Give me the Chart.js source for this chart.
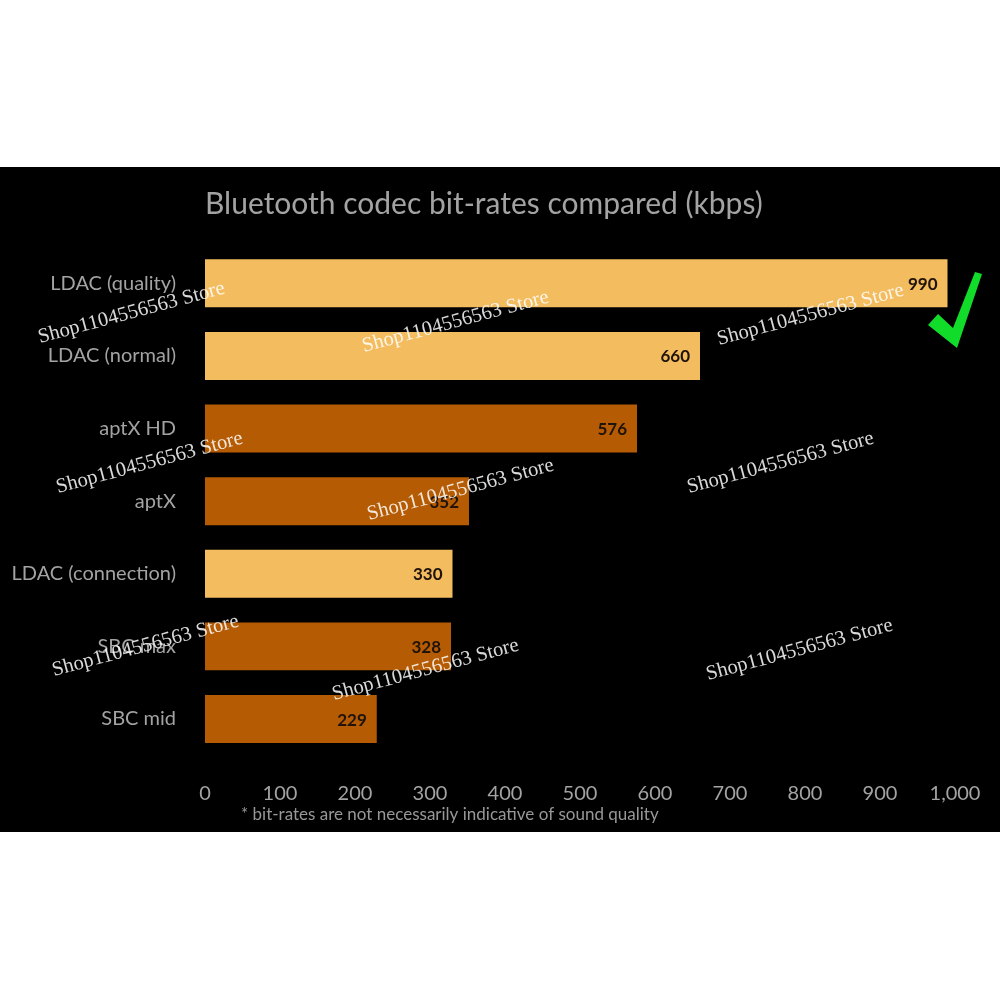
<!DOCTYPE html>
<html>
<head>
<meta charset="utf-8">
<title>Bluetooth codec bit-rates</title>
<script src="https://cdn.jsdelivr.net/npm/chart.js@4"></script>
<style>
  html, body { margin: 0; padding: 0; background: #fff; }
  canvas { display: block; }
</style>
</head>
<body>
<canvas id="codecChart" width="1000" height="1000"></canvas>
<script>
const codecs = ['LDAC (quality)', 'LDAC (normal)', 'aptX HD', 'aptX', 'LDAC (connection)', 'SBC max', 'SBC mid'];
const bitRates = [990, 660, 576, 352, 330, 328, 229];
const barColors = ['#f3bc5f', '#f3bc5f', '#b45b04', '#b45b04', '#f3bc5f', '#b45b04', '#b45b04'];
const chartTitle = 'Bluetooth codec bit-rates compared (kbps)';
const footnote = '* bit-rates are not necessarily indicative of sound quality';
const watermark = 'Shop1104556563 Store';
// left end of each watermark on the page
const stampX = [40, 364, 719, 58, 369, 689, 54, 334, 708];
const stampY = [343, 352, 345, 493, 520, 493, 676, 700, 680];

const gray = '#a3a3a3';
const font = 'Lato, "Open Sans", sans-serif';

const slidePlugin = {
    id: 'slide',
    beforeDraw(chart) {
        const ctx = chart.ctx;
        ctx.save();
        ctx.fillStyle = '#fff';
        ctx.fillRect(0, 0, 1000, 1000);
        ctx.fillStyle = '#000';
        ctx.fillRect(0, 167, 1000, 665);
        ctx.restore();
    },
    afterDraw(chart) {
        const ctx = chart.ctx;
        ctx.save();

        // values inside the bars
        ctx.font = 'bold 17px ' + font;
        ctx.fillStyle = '#20130a';
        ctx.textAlign = 'right';
        ctx.textBaseline = 'middle';
        chart.getDatasetMeta(0).data.forEach((bar, i) => {
            ctx.fillText(bitRates[i], bar.x - 10, bar.y + 1);
        });

        // footnote
        ctx.font = '17px ' + font;
        ctx.fillStyle = '#989898';
        ctx.textAlign = 'left';
        ctx.fillText(footnote, 241, 815);

        // green tick
        ctx.fillStyle = '#12dc2a';
        ctx.beginPath();
        ctx.moveTo(928, 325);
        ctx.lineTo(938, 314);
        ctx.lineTo(953, 328);
        ctx.lineTo(975, 272);
        ctx.lineTo(982, 274);
        ctx.lineTo(957, 348);
        ctx.closePath();
        ctx.fill();

        // shop watermarks
        ctx.font = '20.5px "Liberation Serif", serif';
        ctx.fillStyle = 'rgba(255,255,255,0.85)';
        ctx.textBaseline = 'alphabetic';
        stampX.forEach((x, i) => {
            ctx.save();
            ctx.translate(x, stampY[i]);
            ctx.rotate(-15 * Math.PI / 180);
            ctx.fillText(watermark, 0, 0);
            ctx.restore();
        });
        ctx.restore();
    }
};

new Chart(document.getElementById('codecChart').getContext('2d'), {
    type: 'bar',
    data: {
        labels: codecs,
        datasets: [{
            data: bitRates,
            backgroundColor: barColors,
            barPercentage: 0.66,
            categoryPercentage: 1
        }]
    },
    options: {
        indexAxis: 'y',
        responsive: false,
        animation: false,
        devicePixelRatio: 1,
        layout: { padding: { top: 167, right: 45, bottom: 194.67, left: 0 } },
        plugins: {
            legend: { display: false },
            tooltip: { enabled: false },
            title: {
                display: true,
                text: chartTitle,
                align: 'start',
                fullSize: false,
                color: gray,
                font: { family: font, size: 30, weight: 'normal' },
                padding: { top: 19, bottom: 25 }
            }
        },
        scales: {
            x: {
                min: 0,
                max: 1000,
                grid: { display: false },
                border: { display: false },
                afterFit(axis) { axis.height = 50; },
                ticks: {
                    stepSize: 100,
                    maxRotation: 0,
                    autoSkip: false,
                    padding: 18,
                    color: gray,
                    font: { family: font, size: 20 }
                }
            },
            y: {
                grid: { display: false },
                border: { display: false },
                afterFit(axis) { axis.width = 205; },
                ticks: {
                    padding: 21,
                    autoSkip: false,
                    color: gray,
                    font: { family: font, size: 20 }
                }
            }
        }
    },
    plugins: [slidePlugin]
});
</script>
</body>
</html>
